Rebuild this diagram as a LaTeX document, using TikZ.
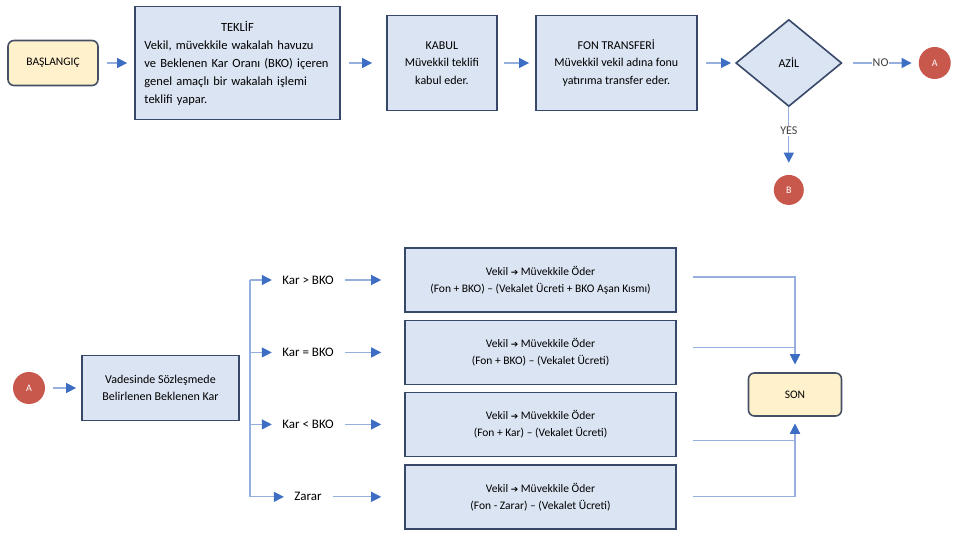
\documentclass[tikz,border=0pt]{standalone}
\usepackage{fontspec}
\setmainfont{Carlito}
\newfontfamily\symfont{DejaVu Sans}
\usetikzlibrary{positioning, shapes.geometric, arrows.meta}
\definecolor{stepfill}{RGB}{219,228,242}
\definecolor{stepline}{RGB}{55,72,105}
\definecolor{endfill}{RGB}{255,241,204}
\definecolor{endline}{RGB}{70,80,100}
\definecolor{flowline}{RGB}{150,175,222}
\definecolor{flowtip}{RGB}{62,110,196}
\definecolor{jumpred}{RGB}{201,88,76}
\tikzset{
	stepbox/.style={draw=stepline, line width=1.6pt, rectangle, inner sep=2pt, fill=stepfill, align=center, font=\fontsize{12}{17.5}\selectfont},
	terminal/.style={draw=endline, line width=1.6pt, rectangle, rounded corners=6pt, fill=endfill, font=\fontsize{11.5}{13}\selectfont},
	decision/.style={draw=stepline, line width=1.6pt, diamond, inner sep=0pt, fill=stepfill, minimum width=106pt, minimum height=87pt, font=\fontsize{12}{14}\selectfont},
	jump/.style={circle, fill=jumpred, text=white, minimum size=32pt, inner sep=0pt, font=\fontsize{10}{12}\selectfont},
	case/.style={font=\fontsize{13}{15}\selectfont},
	% payment boxes on the right
	payout/.style={stepbox, minimum width=271pt, minimum height=64pt, font=\fontsize{11.5}{17}\selectfont},
	flow/.style={draw=flowline, line width=1.2pt, -{Triangle[color=flowtip, length=10pt, width=10pt]}},
}
\newcommand{\pays}{Vekil {\symfont\small ➔} Müvekkile Öder}

\begin{document}
\begin{tikzpicture}[x=1pt, y=-1pt]
\useasboundingbox (0,0) rectangle (954,534);

\node (start) [terminal, minimum width=90pt, minimum height=45pt] at (53,63) {BAŞLANGIÇ};

\node (teklif) [stepbox, right of=start, xshift=156pt, minimum width=205pt, minimum height=113pt, text width=186pt, align=left, font=\fontsize{12.5}{18}\selectfont] {{\centering TEKLİF\par}Vekil, müvekkile wakalah havuzu\\ ve Beklenen Kar Oranı (BKO) içeren\\ genel amaçlı bir wakalah işlemi\\ teklifi yapar.};

\node (kabul) [stepbox, right of=teklif, xshift=176pt, minimum width=110pt, minimum height=95pt] {KABUL\\ Müvekkil teklifi\\ kabul eder.};

\node (fon) [stepbox, right of=kabul, xshift=146pt, minimum width=161pt, minimum height=95pt] {FON TRANSFERİ\\ Müvekkil vekil adına fonu\\ yatırıma transfer eder.};

\node (azil) [decision, right of=fon, xshift=144pt] {AZİL};

\node (a1) [jump, right of=azil, xshift=117.5pt] {A};

\node (b1) [jump, below of=azil, yshift=-98.5pt, minimum size=30pt] {B};

\node (a2) [jump] at (29,388) {A};

\node (vade) [stepbox, right of=a2, xshift=103pt, minimum width=157pt, minimum height=65pt] {Vadesinde Sözleşmede\\ Belirlenen Beklenen Kar};

\node (res1) [payout] at (540.5,280) {\pays\\ (Fon + BKO) – (Vekalet Ücreti + BKO Aşan Kısmı)};
\node (res2) [payout, below of=res1, yshift=-44pt] {\pays\\ (Fon + BKO) – (Vekalet Ücreti)};
\node (res3) [payout, below of=res2, yshift=-43.5pt] {\pays\\ (Fon + Kar) – (Vekalet Ücreti)};
\node (res4) [payout, below of=res3, yshift=-44pt] {\pays\\ (Fon - Zarar) – (Vekalet Ücreti)};

\node (kgt) [case, left of=res1, xshift=-204pt] {Kar > BKO};
\node (keq) [case, left of=res2, xshift=-204pt] {Kar = BKO};
\node (klt) [case, left of=res3, xshift=-204pt] {Kar < BKO};
\node (zarar) [case, left of=res4, xshift=-204pt] {Zarar};

\node (son) [terminal, minimum width=93pt, minimum height=43pt] at (795,394.5) {SON};

\coordinate (split) at (250,388);

\begin{scope}[flow, shorten <=8pt, shorten >=7pt]
	\draw (start) -- (teklif);
	\draw [shorten >=14pt] (teklif) -- (kabul);
	\draw [shorten <=6pt, shorten >=6pt] (kabul) -- (fon);
	\draw [shorten >=4pt] (fon) -- (azil);
	\draw [shorten <=10pt] (azil) -- (a1) node [midway, fill=white, inner sep=1pt, font=\fontsize{12}{14}\selectfont, text=black!75] {NO};
	\draw [shorten <=0pt, shorten >=12pt] (azil) -- (b1) node [pos=0.35, fill=white, inner sep=1pt, font=\fontsize{12}{14}\selectfont, text=black!75] {YES};
	\draw [shorten >=5pt] (a2) -- (vade);
	\draw [shorten <=0pt, shorten >=7pt] (split |- kgt) -- (kgt);
	\draw [shorten <=0pt, shorten >=7pt] (split |- keq) -- (keq);
	\draw [shorten <=0pt, shorten >=7pt] (split |- klt) -- (klt);
	\draw [shorten <=0pt, shorten >=7pt] (split |- zarar) -- (zarar);
	\draw [shorten >=23pt] (kgt) -- (res1);
	\draw [shorten >=23pt] (keq) -- (res2);
	\draw [shorten >=23pt] (klt) -- (res3);
	\draw [shorten >=23pt] (zarar) -- (res4);
	\draw [shorten <=16pt, shorten >=8pt] ([yshift=3pt]res1.east) -| (son.north);
	\draw [shorten <=16pt, shorten >=8pt] ([yshift=5pt]res2.east) -| (son.north);
	\draw [shorten <=16pt, shorten >=7pt] ([yshift=-16pt]res3.east) -| (son.south);
	\draw [shorten <=16pt, shorten >=7pt] (res4.east) -| (son.south);
\end{scope}
\draw [draw=flowline, line width=1.2pt] (split |- kgt) -- (split |- zarar);
\end{tikzpicture}
\end{document}
